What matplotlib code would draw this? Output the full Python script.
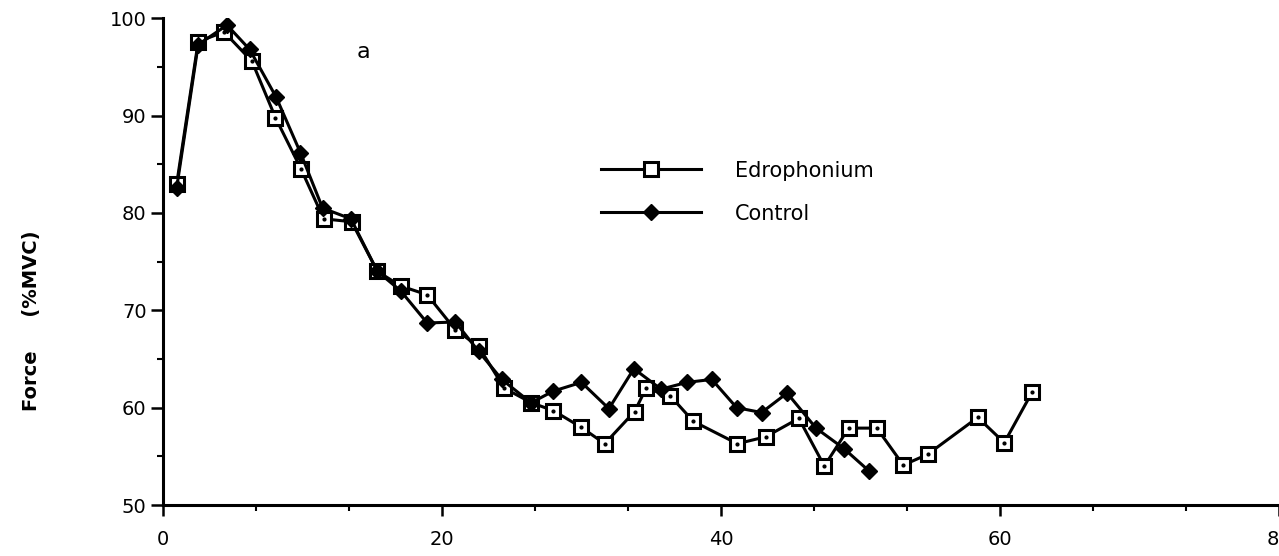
import matplotlib
matplotlib.use("Agg")
import matplotlib.pyplot as plt
from matplotlib.ticker import MultipleLocator

# time (s) and force (%MVC)
edro_t = [0.96, 2.5, 4.35, 6.35, 8.04, 9.88, 11.5, 13.5, 15.35, 17.02, 18.92,
          20.94, 22.6, 24.45, 26.4, 27.96, 29.95, 31.65, 33.79, 34.62, 36.36,
          38.0, 41.16, 43.18, 45.57, 47.4, 49.14, 51.16, 53.06, 54.8, 58.4,
          60.3, 62.3]
edro_f = [83.0, 97.6, 98.6, 95.6, 89.8, 84.5, 79.4, 79.1, 74.0, 72.5, 71.6,
          68.0, 66.3, 62.0, 60.5, 59.7, 58.0, 56.3, 59.6, 62.0, 61.2,
          58.6, 56.3, 57.0, 58.9, 54.0, 57.9, 57.9, 54.1, 55.2, 59.0,
          56.4, 61.6]

ctrl_t = [0.96, 2.5, 4.57, 6.19, 8.09, 9.83, 11.42, 13.45, 15.35, 17.02, 18.92,
          20.94, 22.6, 24.27, 26.37, 27.96, 29.98, 31.95, 33.74, 35.69, 37.55,
          39.33, 41.11, 42.9, 44.73, 46.8, 48.8, 50.6]
ctrl_f = [82.6, 97.3, 99.3, 96.8, 91.9, 86.2, 80.5, 79.4, 74.0, 72.0, 68.7,
          68.8, 65.8, 62.9, 60.5, 61.7, 62.6, 59.9, 64.0, 61.9, 62.6,
          62.9, 60.0, 59.5, 61.5, 57.9, 55.8, 53.5]

x_ticks = [0, 20, 40, 60, 80]
y_ticks = [50, 60, 70, 80, 90, 100]

fig = plt.figure(figsize=(12.79, 5.56), dpi=100)
# x axis ends right at the page edge, so the "80" label is half cut off
ax = fig.add_axes([0.1277, 0.0917, 0.8723, 0.8754])

ax.plot(edro_t, edro_f, color="black", lw=2.2, marker="s", ms=9.5,
        mfc="white", mec="black", mew=2.2, label="Edrophonium", zorder=2)
ax.plot(edro_t, edro_f, ls="none", marker="o", ms=2, color="black", zorder=2.5)
ax.plot(ctrl_t, ctrl_f, color="black", lw=2.2, marker="D", ms=8.5,
        mfc="black", mec="black", label="Control", zorder=3)

ax.set_xlim(0, 80)
ax.set_ylim(50, 100)
ax.set_xticks(x_ticks)
ax.set_yticks(y_ticks)
ax.xaxis.set_minor_locator(MultipleLocator(20 / 3))
ax.yaxis.set_minor_locator(MultipleLocator(5))

for s in ["top", "right"]:
    ax.spines[s].set_visible(False)
for s in ["left", "bottom"]:
    ax.spines[s].set_linewidth(2.2)

ax.tick_params(axis="x", which="major", length=8, width=1.8, pad=10, labelsize=14)
ax.tick_params(axis="x", which="minor", length=4, width=1.5)
ax.tick_params(axis="y", which="major", length=9, width=1.8, pad=3, labelsize=14)
ax.tick_params(axis="y", which="minor", length=4, width=1.5)

ax.text(0.179, 0.93, "a", transform=ax.transAxes, fontsize=16,
        ha="center", va="center")

fig.text(0.025, 0.424, "Force     (%MVC)", rotation=90, fontsize=14,
         fontweight="bold", ha="center", va="center")

ax.legend(loc="center left", bbox_to_anchor=(0.3833, 0.643), frameon=False,
          fontsize=15, handlelength=4.8, handletextpad=1.6, labelspacing=1.1,
          numpoints=1, borderpad=0)

fig.savefig("out.png", dpi=100)
